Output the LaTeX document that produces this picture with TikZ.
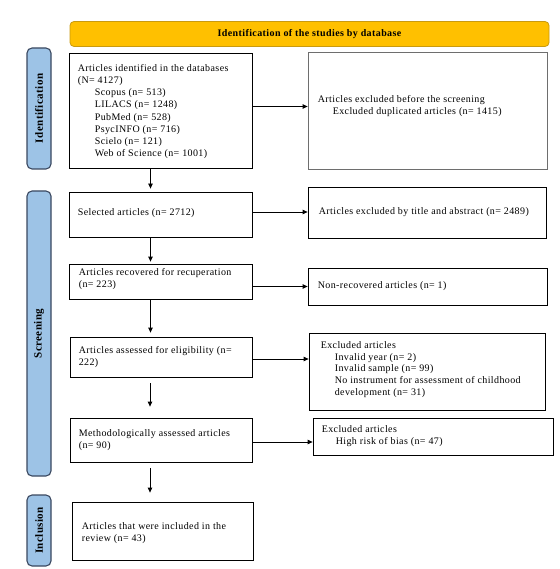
\documentclass[tikz,border=0pt]{standalone}
\usepackage{fontspec}
\setmainfont{Liberation Serif}[LetterSpace=4]
\usetikzlibrary{arrows.meta}
\definecolor{hdr}{HTML}{FFC000}
\definecolor{hdrd}{HTML}{C99A10}
\definecolor{barf}{HTML}{9DC3E6}
\definecolor{bard}{HTML}{3A4860}
\definecolor{gbox}{HTML}{6E6E6E}
\begin{document}
\begin{tikzpicture}[x=1pt,y=-1pt,
  font=\fontsize{10}{12}\selectfont,
  box/.style={draw=black, line width=0.8pt, inner sep=0pt},
  txt/.style={align=left, inner sep=0pt, anchor=west},
  sidebar/.style={draw=bard, fill=barf, line width=1.1pt, rounded corners=5pt, inner sep=0pt},
  sidelbl/.style={rotate=90, font=\fontsize{11}{13}\selectfont\bfseries, inner sep=0pt},
  arr/.style={-{Triangle[length=5pt,width=4.5pt]}, line width=0.8pt}
]
\useasboundingbox (0,0) rectangle (559,569);

% header
\node[draw=hdrd, fill=hdr, line width=0.8pt, rounded corners=4pt, minimum width=479pt, minimum height=25pt, inner sep=0pt,
  font=\fontsize{10}{12}\selectfont\bfseries] (hdr) at (309.5,34) {Identification of the studies by database};

% side bars
\node[sidebar, minimum width=24pt, minimum height=121pt] (sid) at (39,108.5) {};
\node[sidelbl] (sidl) at (sid.center) {Identification};
\node[sidebar, minimum width=24pt, minimum height=285pt] (sscr) at (39,333.5) {};
\node[sidelbl] (sscrl) at (sscr.center) {Screening};
\node[sidebar, minimum width=24pt, minimum height=71pt] (sinc) at (39,530.5) {};
\node[sidelbl] (sincl) at (sinc.center) {Inclusion};

% left boxes
\node[box, minimum width=183pt, minimum height=115pt] (b1) at (160.5,110.5) {};
\node[txt, font=\fontsize{10}{12.1}\selectfont] (b1t) at ([xshift=9pt,yshift=-1pt]b1.west) {Articles identified in the databases\\(N= 4127)\\
\hspace*{17pt}Scopus (n= 513)\\\hspace*{17pt}LILACS (n= 1248)\\\hspace*{17pt}PubMed (n= 528)\\
\hspace*{17pt}PsycINFO (n= 716)\\\hspace*{17pt}Scielo (n= 121)\\\hspace*{17pt}Web of Science (n= 1001)};

\node[box, minimum width=183pt, minimum height=45pt] (b2) at (160.5,214.5) {};
\node[txt] (b2t) at ([xshift=9pt,yshift=1pt]b2.west) {Selected articles (n= 2712)};

\node[box, minimum width=183pt, minimum height=35pt] (b3) at (160.5,281.5) {};
\node[txt] (b3t) at ([xshift=10pt,yshift=2pt]b3.west) {Articles recovered for recuperation\\(n= 223)};

\node[box, minimum width=182pt, minimum height=40pt] (b4) at (161,357) {};
\node[txt] (b4t) at ([xshift=9pt]b4.west) {Articles assessed for eligibility (n=\\222)};

\node[box, minimum width=182pt, minimum height=44pt] (b5) at (161,440) {};
\node[txt] (b5t) at ([xshift=9pt]b5.west) {Methodologically assessed articles\\(n= 90)};

\node[box, minimum width=181pt, minimum height=58pt] (b6) at (162.5,531) {};
\node[txt] (b6t) at ([xshift=10pt,yshift=-2pt]b6.west) {Articles that were included in the\\review (n= 43)};

% right boxes
\node[box, draw=gbox, minimum width=239pt, minimum height=117pt] (r1) at (427.5,110.5) {};
\node[txt] (r1t) at ([xshift=10pt,yshift=4pt]r1.west) {Articles excluded before the screening\\\hspace*{15pt}Excluded duplicated articles (n= 1415)};

\node[box, minimum width=238pt, minimum height=51pt] (r2) at (427,212.5) {};
\node[txt] (r2t) at ([xshift=11pt]r2.west) {Articles excluded by title and abstract (n= 2489)};

\node[box, minimum width=239pt, minimum height=37pt] (r3) at (427.5,286.5) {};
\node[txt] (r3t) at ([xshift=10pt]r3.west) {Non-recovered articles (n= 1)};

\node[box, minimum width=236pt, minimum height=77pt] (r4) at (427,371.5) {};
\node[txt, font=\fontsize{10}{11.6}\selectfont] (r4t) at ([xshift=12pt,yshift=2pt]r4.west) {Excluded articles\\\hspace*{14pt}Invalid year (n= 2)\\\hspace*{14pt}Invalid sample (n= 99)\\
\hspace*{14pt}No instrument for assessment of childhood\\\hspace*{14pt}development (n= 31)};

\node[box, minimum width=240pt, minimum height=37pt] (r5) at (433,436.5) {};
\node[txt] (r5t) at ([xshift=9pt]r5.west) {Excluded articles\\\hspace*{14pt}High risk of bias (n= 47)};

% vertical arrows
\draw[arr, shorten >=3pt] ([xshift=-10pt]b1.south) -- ([xshift=-10pt]b2.north);
\draw[arr, shorten >=2pt] ([xshift=-10pt]b2.south) -- ([xshift=-10pt]b2.south |- b3.north);
\draw[arr, shorten >=4pt] ([xshift=-10pt]b3.south) -- ([xshift=-10pt]b3.south |- b4.north);
\draw[arr, shorten <=6pt, shorten >=11pt] ([xshift=-11pt]b4.south) -- ([xshift=-11pt]b4.south |- b5.north);
\draw[arr, shorten <=6pt, shorten >=9pt] ([xshift=-11pt]b5.south) -- ([xshift=-11pt]b5.south |- b6.north);

% horizontal arrows
\draw[arr] ([yshift=4pt]b1.east) -- ([yshift=4pt]b1.east -| r1.west);
\draw[arr] ([yshift=2.5pt]b2.east) -- ([yshift=2.5pt]b2.east -| r2.west);
\draw[arr] (b3.east |- r3.west) -- (r3.west);
\draw[arr] ([yshift=-2pt]b4.east) -- ([yshift=-2pt]b4.east -| r4.west);
\draw[arr] ([yshift=-2pt]b5.east) -- ([yshift=-2pt]b5.east -| r5.west);
\end{tikzpicture}
\end{document}
